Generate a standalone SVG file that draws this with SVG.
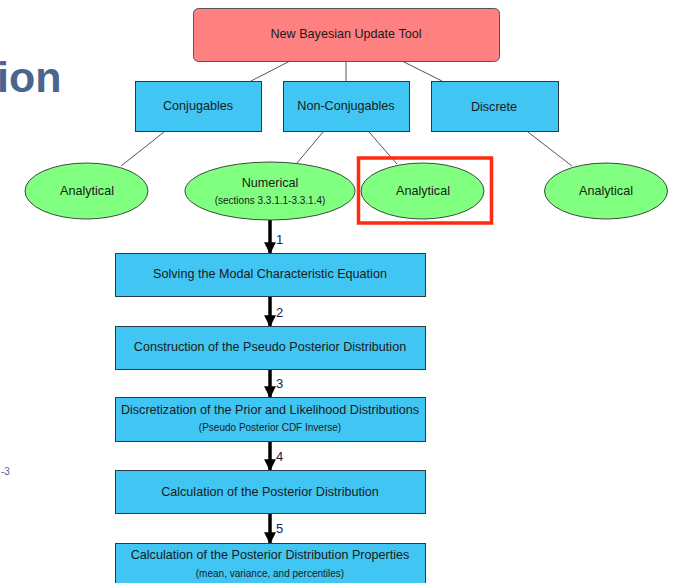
<svg xmlns="http://www.w3.org/2000/svg" width="675" height="583" viewBox="0 0 675 583">
<defs>
<style>
.t{font-family:"Liberation Sans",Arial,sans-serif;fill:#1a1a1a;text-anchor:middle}
.m{font-size:12.6px}
.s{font-size:10px}
.box{fill:#41c6f3;stroke:#2b3a4a;stroke-width:1}
.ell{fill:#80ff80;stroke:#3a4a3a;stroke-width:1}
.ln{stroke:#555;stroke-width:1;fill:none}
.ar{stroke:#000;stroke-width:3.5;fill:none;marker-end:url(#ah)}
.num{font-family:"Liberation Sans",Arial,sans-serif;font-size:13px;fill:#1a2050}
</style>
<marker id="ah" viewBox="0 0 10 10" refX="9" refY="5" markerWidth="3.4" markerHeight="3.4" orient="auto" markerUnits="strokeWidth">
<path d="M0,0 L10,5 L0,10 z" fill="#000"/>
</marker>
</defs>
<rect width="675" height="583" fill="#fff"/>
<text x="-3" y="92" style="font-family:'Liberation Sans',Arial,sans-serif;font-size:43px;font-weight:bold;fill:#4a6590">ion</text>
<text x="1" y="475" style="font-family:'Liberation Sans',Arial,sans-serif;font-size:10px;fill:#4a6590">-3</text>
<g id="connectors">
<line class="ln" x1="290" y1="61" x2="251" y2="81"/>
<line class="ln" x1="346" y1="61" x2="346" y2="81"/>
<line class="ln" x1="402" y1="61" x2="442" y2="81"/>
<line class="ln" x1="164" y1="132" x2="121" y2="166"/>
<line class="ln" x1="323" y1="132" x2="297" y2="163"/>
<line class="ln" x1="369" y1="132" x2="397" y2="164"/>
<line class="ln" x1="528" y1="132" x2="572" y2="166"/>
<line class="ar" x1="270" y1="220" x2="270" y2="253"/>
<line class="ar" x1="270" y1="296" x2="270" y2="326"/>
<line class="ar" x1="270" y1="369" x2="270" y2="397"/>
<line class="ar" x1="270" y1="441" x2="270" y2="470"/>
<line class="ar" x1="270" y1="513" x2="270" y2="543"/>
<text class="num" x="276" y="244">1</text>
<text class="num" x="276" y="317">2</text>
<text class="num" x="276" y="388">3</text>
<text class="num" x="276" y="461">4</text>
<text class="num" x="276" y="533">5</text>
</g>
<g id="root">
<rect x="193.5" y="8.5" width="306" height="53" rx="5" fill="#ff8080" stroke="#555"/>
<text class="t m" x="346" y="38">New Bayesian Update Tool</text>
</g>
<g id="conjugables">
<rect class="box" x="135.5" y="81.5" width="126" height="50"/>
<text class="t m" x="198" y="110">Conjugables</text>
</g>
<g id="nonconjugables">
<rect class="box" x="283.5" y="81.5" width="126" height="50"/>
<text class="t m" x="346" y="110">Non-Conjugables</text>
</g>
<g id="discrete">
<rect class="box" x="431.5" y="81.5" width="127" height="50"/>
<text class="t m" x="494" y="111">Discrete</text>
</g>
<g id="analytical1">
<ellipse class="ell" cx="86.5" cy="191" rx="61.5" ry="28"/>
<text class="t m" x="87" y="195">Analytical</text>
</g>
<g id="numerical">
<ellipse class="ell" cx="270" cy="191" rx="85" ry="29"/>
<text class="t m" x="270" y="187">Numerical</text>
<text class="t s" x="270" y="204">(sections 3.3.1.1-3.3.1.4)</text>
</g>
<g id="analytical2">
<ellipse class="ell" cx="422.5" cy="191" rx="61.5" ry="28"/>
<text class="t m" x="423" y="195">Analytical</text>
</g>
<g id="analytical3">
<ellipse class="ell" cx="606" cy="191" rx="61.5" ry="28"/>
<text class="t m" x="606" y="195">Analytical</text>
</g>
<g id="highlight">
<rect x="358.5" y="158" width="133" height="65" fill="none" stroke="#ff2a10" stroke-width="3.5"/>
</g>
<g id="step1">
<rect class="box" x="115.5" y="253.5" width="310" height="43"/>
<text class="t m" x="270" y="278">Solving the Modal Characteristic Equation</text>
</g>
<g id="step2">
<rect class="box" x="115.5" y="326.5" width="310" height="43"/>
<text class="t m" x="270" y="351">Construction of the Pseudo Posterior Distribution</text>
</g>
<g id="step3">
<rect class="box" x="115.5" y="397.5" width="310" height="44"/>
<text class="t m" x="270" y="414">Discretization of the Prior and Likelihood Distributions</text>
<text class="t s" x="270" y="431">(Pseudo Posterior CDF Inverse)</text>
</g>
<g id="step4">
<rect class="box" x="115.5" y="470.5" width="310" height="43"/>
<text class="t m" x="270" y="496">Calculation of the Posterior Distribution</text>
</g>
<g id="step5">
<rect class="box" x="115.5" y="543.5" width="310" height="45"/>
<text class="t m" x="270" y="559">Calculation of the Posterior Distribution Properties</text>
<text class="t s" x="270" y="577">(mean, variance, and percentiles)</text>
</g>
</svg>
